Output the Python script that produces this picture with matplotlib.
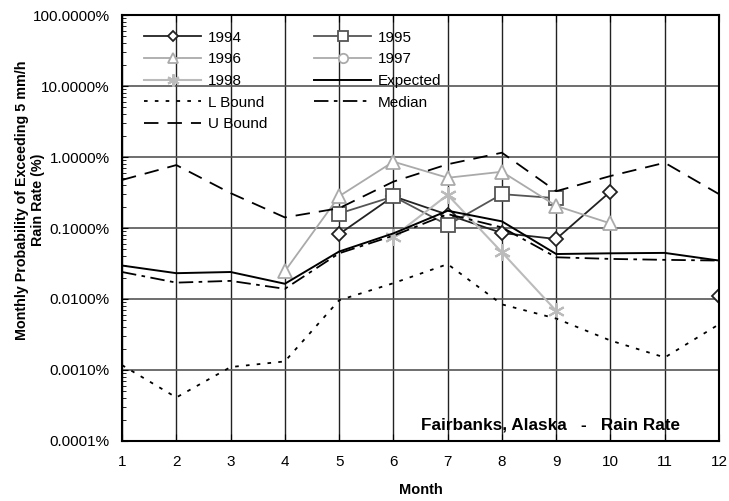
import numpy as np
import matplotlib
matplotlib.use("Agg")
import matplotlib.pyplot as plt
from matplotlib.ticker import FixedLocator, LogLocator, NullFormatter

plt.rcParams['font.family'] = ['Liberation Sans', 'DejaVu Sans']

nan = np.nan
months = list(range(1, 13))

# probabilities in percent
y1994 = [nan, nan, nan, nan, 0.082, 0.28, 0.154, 0.085, 0.070, 0.326, nan, 0.0112]
y1995 = [nan, nan, nan, nan, 0.160, 0.278, 0.110, 0.30, 0.263, nan, nan, nan]
y1996 = [nan, nan, nan, 0.0246, 0.28, 0.86, 0.51, 0.62, 0.205, 0.116, nan, nan]
y1997 = [nan] * 12
y1998 = [nan, nan, nan, nan, nan, 0.0755, 0.293, 0.0455, 0.0068, nan, nan, nan]
expected = [0.0296, 0.0231, 0.024, 0.0164, 0.0466, 0.084, 0.175, 0.124, 0.043, 0.044, 0.0446, 0.0348]
median = [0.024, 0.017, 0.018, 0.0139, 0.044, 0.078, 0.157, 0.102, 0.0387, 0.0367, 0.0356, 0.0348]
l_bound = [0.00117, 0.00041, 0.0011, 0.00132, 0.0096, 0.0167, 0.031, 0.0084, 0.0053, 0.0026, 0.0015, 0.0044]
u_bound = [0.475, 0.77, 0.31, 0.141, 0.19, 0.45, 0.79, 1.15, 0.33, 0.54, 0.83, 0.30]

y_ticks = [0.0001, 0.001, 0.01, 0.1, 1, 10, 100]

fig = plt.figure(figsize=(7.29, 5.01), dpi=100)
ax = fig.add_axes([0.1674, 0.1198, 0.8189, 0.8502])

mk = dict(markerfacecolor='white', markeredgewidth=1.3)
h94, = ax.plot(months, y1994, color='#222222', lw=1.3, marker='D', markersize=7, label='1994', **mk)
h95, = ax.plot(months, y1995, color='#555555', lw=1.3, marker='s', markersize=10, label='1995', **mk)
h96, = ax.plot(months, y1996, color='#aaaaaa', lw=1.3, marker='^', markersize=10, label='1996', **mk)
h97, = ax.plot(months, y1997, color='#aaaaaa', lw=1.3, marker='o', markersize=9, label='1997', **mk)
h98, = ax.plot(months, y1998, color='#bbbbbb', lw=1.5, marker=(6, 2, 0), markersize=12,
               markeredgewidth=1.5, label='1998')
hexp, = ax.plot(months, expected, color='black', lw=1.4, label='Expected')
hlb, = ax.plot(months, l_bound, color='black', lw=1.3, linestyle=(0, (2, 4)), label='L Bound')
hmed, = ax.plot(months, median, color='black', lw=1.3, linestyle=(0, (8, 3, 2, 3)), label='Median')
hub, = ax.plot(months, u_bound, color='black', lw=1.3, linestyle=(0, (8, 5)), label='U Bound')

ax.set_yscale('log')
ax.set_ylim(0.0001, 100)
ax.set_xlim(1, 12)
ax.yaxis.set_major_locator(FixedLocator(y_ticks))
ax.set_yticklabels([f"{v:.4f}%" for v in y_ticks], fontsize=11)
ax.yaxis.set_minor_locator(LogLocator(base=10, subs=np.arange(2, 10)))
ax.yaxis.set_minor_formatter(NullFormatter())
ax.set_xticks(months)
ax.set_xticklabels([str(m) for m in months], fontsize=11)
ax.tick_params(axis='y', which='both', direction='in', length=4, pad=9)
ax.tick_params(axis='y', which='minor', length=3)
ax.tick_params(axis='x', direction='in', top=True, length=5, pad=10)

ax.grid(True, which='major', axis='y', color='#555555', lw=1.2)
ax.grid(True, which='major', axis='x', color='#222222', lw=1.0)
for s in ax.spines.values():
    s.set_linewidth(1.5)

ax.set_xlabel('Month', fontsize=10.5, fontweight='bold', labelpad=10)
ax.set_ylabel('Monthly Probability of Exceeding 5 mm/h\nRain Rate (%)',
              fontsize=10.3, fontweight='bold', linespacing=1.22)
ax.yaxis.set_label_coords(-0.129, 0.566)

handles = [h94, h96, h98, hlb, hub, h95, h97, hexp, hmed]
leg = ax.legend(handles=handles, labels=[h.get_label() for h in handles], ncol=2,
                loc='upper left', bbox_to_anchor=(0.022, 0.985), frameon=False, fontsize=11,
                handlelength=3.7, handletextpad=0.45, labelspacing=0.5, columnspacing=3.1,
                borderaxespad=0.2, markerscale=0.75)

ax.text(0.935, 0.0376, 'Fairbanks, Alaska   -   Rain Rate', transform=ax.transAxes,
        ha='right', va='center', fontsize=12.3, fontweight='bold')

fig.savefig('out.png', dpi=100)
